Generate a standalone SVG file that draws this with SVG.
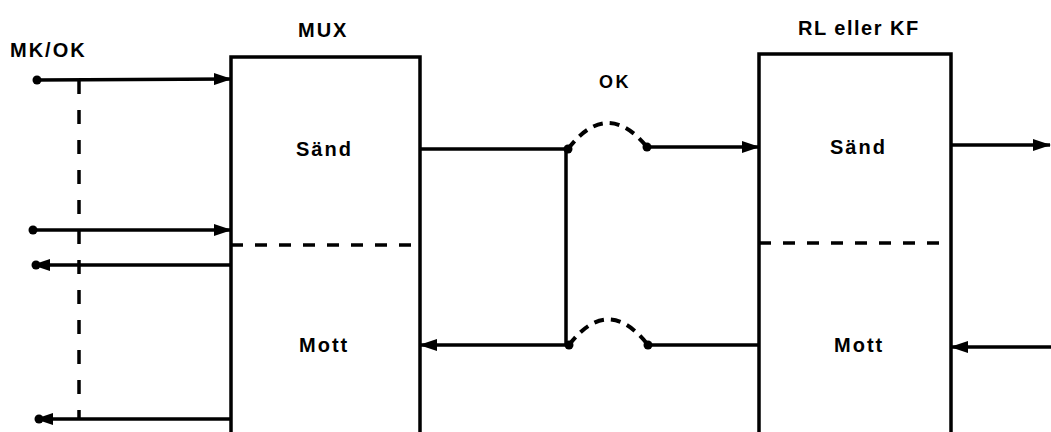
<svg xmlns="http://www.w3.org/2000/svg" width="1051" height="432" viewBox="0 0 1051 432">
<style>
.t{font-family:"Liberation Sans",Arial,sans-serif;font-weight:bold;fill:#000;font-size:20px;letter-spacing:2px;}
.box{fill:none;stroke:#000;stroke-width:3.5;}
.div{fill:none;stroke:#000;stroke-width:3.5;stroke-dasharray:12 12;}
.ln{fill:none;stroke:#000;stroke-width:3.5;}
.arc{fill:none;stroke:#000;stroke-width:4;stroke-dasharray:10 7;}
.dot{fill:#000;}
</style>
<defs>
<marker id="ah" markerUnits="userSpaceOnUse" markerWidth="18" markerHeight="12" refX="17" refY="6" orient="auto">
<path d="M0,0 L18,6 L0,12 z" fill="#000"/>
</marker>
</defs>
<rect width="1051" height="432" fill="#fff"/>
<text class="t" x="10" y="57" style="font-size:20px;letter-spacing:2px">MK/OK</text>
<g id="mux">
<path class="box" d="M231,432 V57 H420 V432"/>
<line class="div" x1="231" y1="245" x2="420" y2="245"/>
<text class="t" x="298" y="37">MUX</text>
<text class="t" x="296" y="156">Sänd</text>
<text class="t" x="299" y="352">Mott</text>
</g>
<g id="rl">
<path class="box" d="M759,432 V54 H951 V432"/>
<line class="div" x1="759" y1="243" x2="951" y2="243"/>
<text class="t" x="798" y="35" style="letter-spacing:1.5px">RL eller KF</text>
<text class="t" x="830" y="154">Sänd</text>
<text class="t" x="834" y="352">Mott</text>
</g>
<g id="ok">
<text class="t" x="599" y="88" style="font-size:18px;letter-spacing:2.5px">OK</text>
</g>
<g id="connectors">
<line class="ln" x1="37" y1="80" x2="231" y2="79" marker-end="url(#ah)"/>
<circle class="dot" cx="37" cy="80" r="4.5"/>
<line class="ln" x1="33" y1="230" x2="231" y2="230" marker-end="url(#ah)"/>
<circle class="dot" cx="33" cy="230" r="4.5"/>
<line class="ln" x1="231" y1="265" x2="33" y2="265" marker-end="url(#ah)"/>
<circle class="dot" cx="36" cy="265" r="4.5"/>
<line class="ln" x1="231" y1="419" x2="36" y2="419" marker-end="url(#ah)"/>
<circle class="dot" cx="39" cy="419" r="4.5"/>
<line class="ln" x1="79" y1="80" x2="79" y2="419" stroke-dasharray="14 16"/>
<path class="ln" d="M420,149 H566 V345"/>
<circle class="dot" cx="568" cy="149" r="4.5"/>
<path class="arc" d="M568,149 Q607,98 647,147"/>
<circle class="dot" cx="647" cy="147" r="4.5"/>
<line class="ln" x1="647" y1="147" x2="759" y2="147" marker-end="url(#ah)"/>
<line class="ln" x1="759" y1="345" x2="648" y2="345"/>
<circle class="dot" cx="648" cy="345" r="4.5"/>
<path class="arc" d="M569,345 Q608,294 648,345"/>
<circle class="dot" cx="569" cy="345" r="4.5"/>
<line class="ln" x1="569" y1="345" x2="420" y2="345" marker-end="url(#ah)"/>
<line class="ln" x1="951" y1="145" x2="1050" y2="145" marker-end="url(#ah)"/>
<line class="ln" x1="1051" y1="347" x2="951" y2="347" marker-end="url(#ah)"/>
</g>
</svg>
